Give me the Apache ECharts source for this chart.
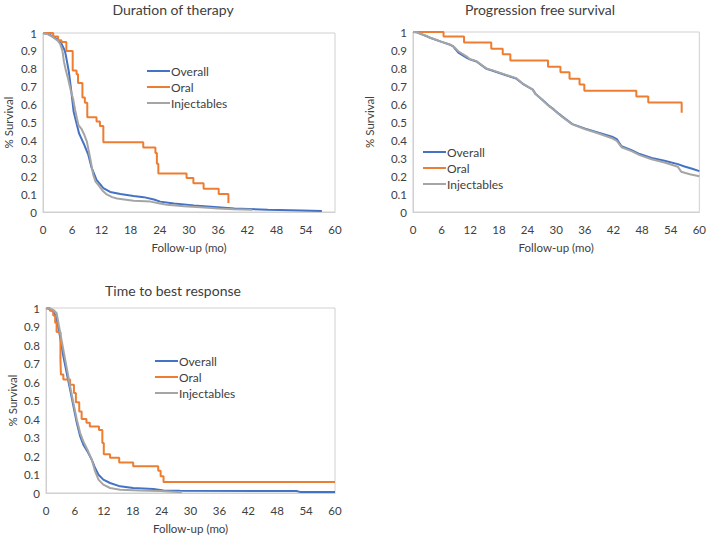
<!DOCTYPE html>
<html><head><meta charset="utf-8">
<script src="https://cdn.jsdelivr.net/npm/echarts@6/dist/echarts.min.js"></script>
<style>html,body{margin:0;padding:0;background:#fff}#c{width:709px;height:536px}</style>
</head><body><div id="c"></div>
<script>
// ---- data ----
const seriesNames = ['Overall', 'Oral', 'Injectables'];
const panelTitles = ['Duration of therapy', 'Progression free survival', 'Time to best response'];
const xAxisTitle = 'Follow-up (mo)';
const yAxisTitle = '% Survival';
const xTickLabels = ['0','6','12','18','24','30','36','42','48','54','60'];
const yTickLabels = ['0','0.1','0.2','0.3','0.4','0.5','0.6','0.7','0.8','0.9','1'];

// Duration of therapy
const dotOverall = [[0,1],[1,0.995],[2.1,0.98],[3.1,0.96],[3.8,0.94],[4.5,0.90],[4.8,0.86],[5.3,0.785],[5.7,0.70],[6.0,0.63],[6.3,0.56],[6.9,0.495],[7.4,0.44],[7.9,0.41],[8.4,0.38],[9.0,0.34],[9.3,0.32],[10.0,0.246],[11.0,0.18],[12.4,0.134],[13.8,0.112],[15.9,0.10],[18.6,0.09],[20.7,0.083],[22.8,0.07],[24.1,0.058],[26.9,0.047],[31.0,0.037],[35.2,0.028],[39.3,0.019],[46.2,0.013],[53.1,0.009],[57.3,0.006]];
const dotOral = [[0,1],[2.1,0.98],[3.1,0.96],[3.8,0.95],[4.8,0.90],[6.1,0.79],[6.9,0.77],[7.2,0.72],[8.1,0.64],[8.6,0.61],[9.1,0.53],[11.0,0.505],[11.7,0.48],[12.4,0.39],[20.6,0.36],[23.1,0.33],[23.4,0.27],[23.7,0.215],[29.5,0.19],[30.9,0.16],[33.0,0.13],[36.1,0.10],[38.1,0.05]];
const dotInject = [[0,1],[1,0.993],[2.1,0.975],[3.1,0.955],[3.5,0.94],[4.0,0.90],[4.3,0.84],[4.7,0.79],[5.2,0.74],[5.7,0.68],[6.2,0.63],[6.6,0.57],[7.0,0.52],[7.3,0.485],[7.9,0.465],[8.5,0.43],[9.0,0.395],[9.7,0.30],[10.3,0.21],[10.8,0.17],[11.4,0.15],[12.2,0.12],[13.1,0.098],[14.2,0.083],[15.2,0.075],[18.6,0.063],[22.1,0.058],[24.0,0.048],[25.5,0.04],[29.0,0.032],[32.4,0.026],[36.0,0.02],[39.3,0.015],[43.0,0.012]];

// Progression free survival
const pfsOverall = [[0,1],[0.8,0.998],[2.9,0.976],[3.6,0.968],[6.0,0.945],[7.8,0.929],[8.4,0.92],[9.5,0.885],[11.2,0.858],[11.9,0.848],[13.3,0.836],[15.4,0.795],[16.7,0.785],[19.5,0.76],[21.6,0.742],[23.0,0.712],[25.1,0.68],[25.7,0.655],[27.1,0.623],[28.5,0.59],[29.2,0.576],[30.6,0.545],[31.3,0.53],[33.4,0.488],[36.1,0.463],[38.9,0.441],[41.7,0.418],[42.7,0.405],[43.7,0.365],[45.8,0.343],[47.5,0.322],[50.0,0.30],[52.7,0.285],[55.5,0.266],[56.9,0.253],[58.5,0.24],[60,0.227]];
const pfsOral = [[0,1],[6.4,0.975],[10.7,0.942],[16.4,0.907],[18.8,0.877],[20.4,0.842],[28.3,0.807],[30.9,0.777],[32.8,0.740],[34.9,0.708],[35.9,0.674],[46.8,0.641],[49.3,0.608],[56.3,0.552]];
const pfsInject = [[0,1],[0.8,0.998],[2.9,0.978],[3.6,0.968],[6.0,0.945],[7.8,0.93],[8.4,0.922],[9.5,0.893],[11.2,0.865],[11.9,0.85],[13.3,0.838],[15.4,0.797],[16.7,0.787],[19.5,0.762],[21.6,0.744],[23.0,0.714],[25.1,0.68],[25.7,0.655],[27.1,0.622],[28.5,0.588],[29.2,0.574],[30.6,0.543],[31.3,0.528],[33.4,0.487],[36.1,0.46],[38.9,0.436],[41.7,0.41],[42.7,0.395],[43.7,0.36],[45.8,0.338],[47.5,0.316],[50.0,0.293],[52.7,0.275],[55.5,0.251],[56.2,0.224],[58.0,0.21],[60,0.199]];

// Time to best response
const ttbrOverall = [[0,1],[0.7,0.995],[1.5,0.982],[2.2,0.946],[2.9,0.847],[3.6,0.739],[4.3,0.649],[5.0,0.559],[5.7,0.468],[6.4,0.378],[7.1,0.306],[7.75,0.261],[8.6,0.225],[9.5,0.18],[10.2,0.135],[10.9,0.099],[11.9,0.072],[13.3,0.054],[15.4,0.036],[18.1,0.027],[22.3,0.022],[24.4,0.014],[27.8,0.012],[52,0.011],[52.7,0.006],[60,0.006]];
const ttbrOral = [[0,1],[0.8,0.985],[1.5,0.96],[1.9,0.92],[2.2,0.87],[3.0,0.72],[3.1,0.64],[3.6,0.613],[5.0,0.585],[5.8,0.54],[6.2,0.49],[6.9,0.44],[7.4,0.40],[8.4,0.38],[9.1,0.36],[11.0,0.34],[11.7,0.27],[12.0,0.21],[13.3,0.19],[15.2,0.165],[18.1,0.145],[23.3,0.12],[23.8,0.09],[24.4,0.06],[60,0.06]];
const ttbrInject = [[0,1],[0.8,0.997],[1.5,0.99],[2.2,0.973],[2.9,0.874],[3.6,0.775],[4.3,0.676],[5.0,0.577],[5.7,0.486],[6.4,0.396],[7.1,0.324],[7.75,0.279],[8.6,0.234],[9.5,0.18],[10.2,0.117],[10.9,0.072],[11.9,0.045],[13.3,0.027],[15.4,0.018],[19.5,0.014],[23.7,0.011],[28.2,0.004]];

const panelData = [
  [dotOverall, dotOral, dotInject],
  [pfsOverall, pfsOral, pfsInject],
  [ttbrOverall, ttbrOral, ttbrInject]
];

// ---- layout / style ----
const colors = ['#4472C4', '#ED7D31', '#A5A5A5'];
const FONT = 'Lato, "Liberation Sans", sans-serif';
const grids = [
  {left: 43, top: 33, width: 292, height: 179},
  {left: 413, top: 32, width: 289, height: 180},
  {left: 46, top: 308, width: 289, height: 185}
];
const titlePos = [[173, 2], [540, 2], [173, 283]];
const legendPos = [[147, 63], [423, 144], [155, 353]];
const yNameGap = [29, 38, 28];

const chart = echarts.init(document.getElementById('c'), null, {renderer: 'svg'});

const option = {
  animation: false,
  backgroundColor: '#fff',
  textStyle: {fontFamily: FONT},
  title: panelTitles.map((t, i) => ({
    text: t, left: titlePos[i][0], top: titlePos[i][1], textAlign: 'center', padding: 0,
    textStyle: {fontFamily: FONT, fontSize: 14, fontWeight: 'normal', color: '#404040'}
  })),
  legend: legendPos.map(p => ({
    data: seriesNames, orient: 'vertical', left: p[0], top: p[1],
    icon: 'rect', itemWidth: 23, itemHeight: 2, itemGap: 0, padding: 0,
    selectedMode: false,
    textStyle: {fontFamily: FONT, fontSize: 12, color: '#404040', lineHeight: 16, padding: [0,0,0,-4]}
  })),
  grid: grids.map(g => Object.assign({show: true, borderColor: '#d0d0d0', borderWidth: 1, containLabel: false}, g)),
  xAxis: grids.map((g, i) => ({
    type: 'value', gridIndex: i, min: 0, max: 60, interval: 6,
    name: xAxisTitle, nameLocation: 'middle', nameGap: 29,
    nameTextStyle: {fontFamily: FONT, fontSize: 11.5, color: '#404040'},
    axisLine: {show: true, lineStyle: {color: '#d0d0d0'}},
    axisTick: {show: false}, splitLine: {show: false},
    axisLabel: {fontFamily: FONT, fontSize: 11.5, color: '#404040', margin: 11,
      formatter: v => xTickLabels[Math.round(v / 6)]}
  })),
  yAxis: grids.map((g, i) => ({
    type: 'value', gridIndex: i, min: 0, max: 1, interval: 0.1,
    name: yAxisTitle, nameLocation: 'middle', nameGap: yNameGap[i], nameRotate: 90,
    nameTextStyle: {fontFamily: FONT, fontSize: 11.5, color: '#404040'},
    axisLine: {show: true, lineStyle: {color: '#d0d0d0'}},
    axisTick: {show: false}, splitLine: {show: false},
    axisLabel: {fontFamily: FONT, fontSize: 11.5, color: '#404040', margin: 6,
      formatter: v => yTickLabels[Math.round(v * 10)]}
  })),
  series: []
};

panelData.forEach((arrs, gi) => {
  arrs.forEach((d, si) => {
    const s = {
      name: seriesNames[si], type: 'line', xAxisIndex: gi, yAxisIndex: gi,
      data: d, showSymbol: false, symbol: 'none',
      color: colors[si],
      lineStyle: {color: colors[si], width: 2},
      itemStyle: {color: colors[si]},
      z: 2 + si
    };
    if (si === 1) s.step = 'end';
    option.series.push(s);
  });
});

chart.setOption(option);
</script>
</body></html>
